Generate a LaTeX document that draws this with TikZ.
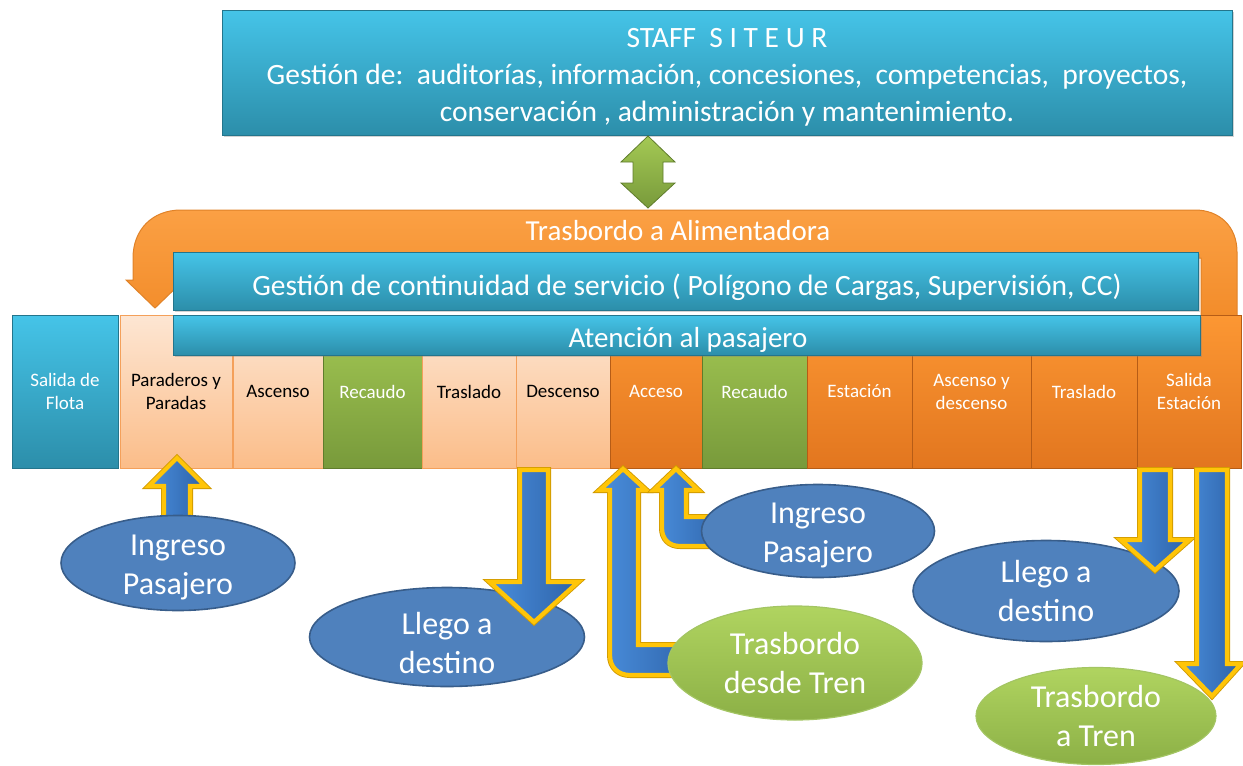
\documentclass[tikz,border=0pt]{standalone}
\usepackage{fontspec}
\setmainfont{Carlito}
\usetikzlibrary{shapes.geometric,shadows}
\definecolor{cyanT}{HTML}{45C4E8}
\definecolor{cyanB}{HTML}{2C8EAA}
\definecolor{cyanD}{HTML}{23758C}
\definecolor{peachT}{HTML}{FDE6D3}
\definecolor{peachB}{HTML}{FBBD89}
\definecolor{peachD}{HTML}{F4A05A}
\definecolor{grnT}{HTML}{A4C954}
\definecolor{grnB}{HTML}{789A3B}
\definecolor{grnD}{HTML}{5F7C2C}
\definecolor{orgT}{HTML}{FC9733}
\definecolor{orgB}{HTML}{E2761F}
\definecolor{orgD}{HTML}{B65C16}
\definecolor{ellB}{HTML}{4F81BD}
\definecolor{ellD}{HTML}{385D8A}
\definecolor{ellGT}{HTML}{B0D460}
\definecolor{ellGB}{HTML}{8CB046}
\definecolor{ellGD}{HTML}{A3C563}
\definecolor{ylw}{HTML}{FFC508}
\definecolor{ylwD}{HTML}{D19A00}
\definecolor{arrT}{HTML}{4A8EDC}
\definecolor{arrB}{HTML}{2D62A8}
\definecolor{orgUT}{HTML}{FBA044}
\definecolor{orgUB}{HTML}{F28C2A}
\definecolor{orgUD}{HTML}{E08228}
\begin{document}
\begin{tikzpicture}[x=1pt,y=-1pt,
  cbox/.style={rectangle, inner sep=0pt, top color=cyanT, bottom color=cyanB, draw=cyanD, line width=0.8pt, text=white, align=center,
    drop shadow={shadow xshift=2pt, shadow yshift=-2pt, opacity=0.35}},
  ctxt/.style={inner sep=0pt, text=white, align=center},
  pbox/.style={rectangle, inner sep=0pt, minimum height=153, top color=#1T, bottom color=#1B, draw=#1D, line width=0.8pt,
    align=center, text=white, font=\fontsize{19}{23}\selectfont},
  ellb/.style={ellipse, inner sep=0pt, fill=ellB, draw=ellD, line width=1.6pt, text=white, align=center, font=\fontsize{32}{39}\selectfont},
  ellg/.style={ellipse, inner sep=0pt, top color=ellGT, bottom color=ellGB, draw=ellGD, line width=1.2pt, text=white, align=center, font=\fontsize{32}{39}\selectfont},
  etxt/.style={inner sep=0pt, text=white, align=center, font=\fontsize{32}{39}\selectfont},
  yarrow/.style={left color=arrT, right color=arrB, draw=ylw, line width=4.2pt, line join=miter,
    preaction={draw=ylwD, line width=6pt, line join=miter}},
  garrow/.style={top color=grnT, bottom color=grnB, draw=grnD, line width=0.8pt},
  uarrow/.style={top color=orgUT, bottom color=orgUB, draw=orgUD, line width=1pt}
]
\useasboundingbox (0,0) rectangle (1243,766);

% top staff box
\node[cbox, minimum width=1010, minimum height=125] (staff) at (727,72.5) {};
\node[ctxt, font=\fontsize{29.5}{37}\selectfont] (stafftxt) at (727,77.5)
  {STAFF\ \ S I T E U R\\Gestión de:\ \ auditorías, información, concesiones,\ \ competencias,\ \ proyectos,\\conservación , administración y mantenimiento.};

% green double arrow
\path[garrow] (648,136) -- (675,162) -- (663,162) -- (663,183) -- (675,183) -- (648,208) -- (621,183) -- (633,183) -- (633,162) -- (621,162) -- cycle;

% orange U arrow
\path[uarrow] (1201,318) -- (1201,258) -- (177,258)
  -- (177,280) -- (184,280) -- (155,308) -- (126,280) -- (133,280) -- (133,258)
  .. controls (133,230) and (152,210) .. (181,210)
  -- (1195,210) .. controls (1219,210) and (1237,226) .. (1237,252) -- (1237,318) -- cycle;
\node[text=white, font=\fontsize{29}{34}\selectfont] (trasal) at (678,231) {Trasbordo a Alimentadora};

% process boxes
\node[pbox=cyan, minimum width=106] (flota) at (65,391.5) {Salida de\\Flota};
\node[pbox=peach, minimum width=112, text=black] (parad) at (176,391.5) {Paraderos y\\Paradas};
\node[pbox=peach, minimum width=90, text=black] (asc) at (278,391.5) {Ascenso};
\node[pbox=grn, minimum width=99] (rec1) at (372.5,391.5) {Recaudo};
\node[pbox=peach, minimum width=94, text=black] (tras1) at (469,391.5) {Traslado};
\node[pbox=peach, minimum width=94, text=black] (desc) at (563,391.5) {Descenso};
\node[pbox=org, minimum width=92] (acc) at (656,391.5) {Acceso};
\node[pbox=grn, minimum width=105] (rec2) at (754.5,391.5) {Recaudo};
\node[pbox=org, minimum width=105] (est) at (859.5,391.5) {Estación};
\node[pbox=org, minimum width=119] (ayd) at (971.5,391.5) {Ascenso y\\descenso};
\node[pbox=org, minimum width=106] (tras2) at (1084,391.5) {Traslado};
\node[pbox=org, minimum width=104] (sal) at (1189,391.5) {Salida\\Estación};

% management bars
\node[cbox, minimum width=1025, minimum height=58] (gest) at (685.5,281) {};
\node[ctxt, font=\fontsize{29.5}{34}\selectfont] (gesttxt) at (687,287)
  {Gestión de continuidad de servicio ( Polígono de Cargas, Supervisión, CC)};
\node[cbox, minimum width=1027, minimum height=40] (aten) at (686.5,335) {};
\node[ctxt, font=\fontsize{29}{34}\selectfont] (atentxt) at (688,340) {Atención al pasajero};

% left ingreso
\path[yarrow] (177,458) -- (205,486) -- (190,486) -- (190,525) -- (164,525) -- (164,486) -- (149,486) -- cycle;
\node[ellb, minimum width=234, minimum height=95] (ing1) at (178,563) {};
\node[etxt] (ing1t) at (178,567) {Ingreso\\Pasajero};

% left llego a destino
\node[ellb, minimum width=275, minimum height=99] (lle1) at (447,637) {};
\node[etxt] (lle1t) at (447,643) {Llego a\\destino};
\path[yarrow] (520,470) -- (548,470) -- (548,582) -- (578,582) -- (534,622) -- (490,582) -- (520,582) -- cycle;

% acceso arrows
\path[yarrow] (623,469) -- (646,490) -- (638,490) -- (638,645) -- (700,645) -- (700,675) -- (630,675)
  .. controls (618,675) and (610,667) .. (610,655) -- (610,490) -- (600,490) -- cycle;
\path[yarrow] (676,469) -- (698,490) -- (686,490) -- (686,517) -- (730,517) -- (730,546) -- (680,546)
  .. controls (669,546) and (662,539) .. (662,528) -- (662,490) -- (654,490) -- cycle;
\node[ellb, minimum width=233, minimum height=93] (ing2) at (818,531) {};
\node[etxt] (ing2t) at (818,535) {Ingreso\\Pasajero};
\node[ellg, minimum width=254, minimum height=114] (tdt) at (795,663) {Trasbordo\\desde Tren};

% right side
\node[ellb, minimum width=266, minimum height=101] (lle2) at (1046,591) {Llego a\\destino};
\node[ellg, minimum width=240, minimum height=97] (tat) at (1096,716) {Trasbordo\\a Tren};
\path[yarrow] (1140,470) -- (1170,470) -- (1170,540) -- (1189,540) -- (1155,570) -- (1121,540) -- (1140,540) -- cycle;
\path[yarrow] (1197,470) -- (1227,470) -- (1227,664) -- (1241,664) -- (1212,696) -- (1181,664) -- (1197,664) -- cycle;
\end{tikzpicture}
\end{document}
